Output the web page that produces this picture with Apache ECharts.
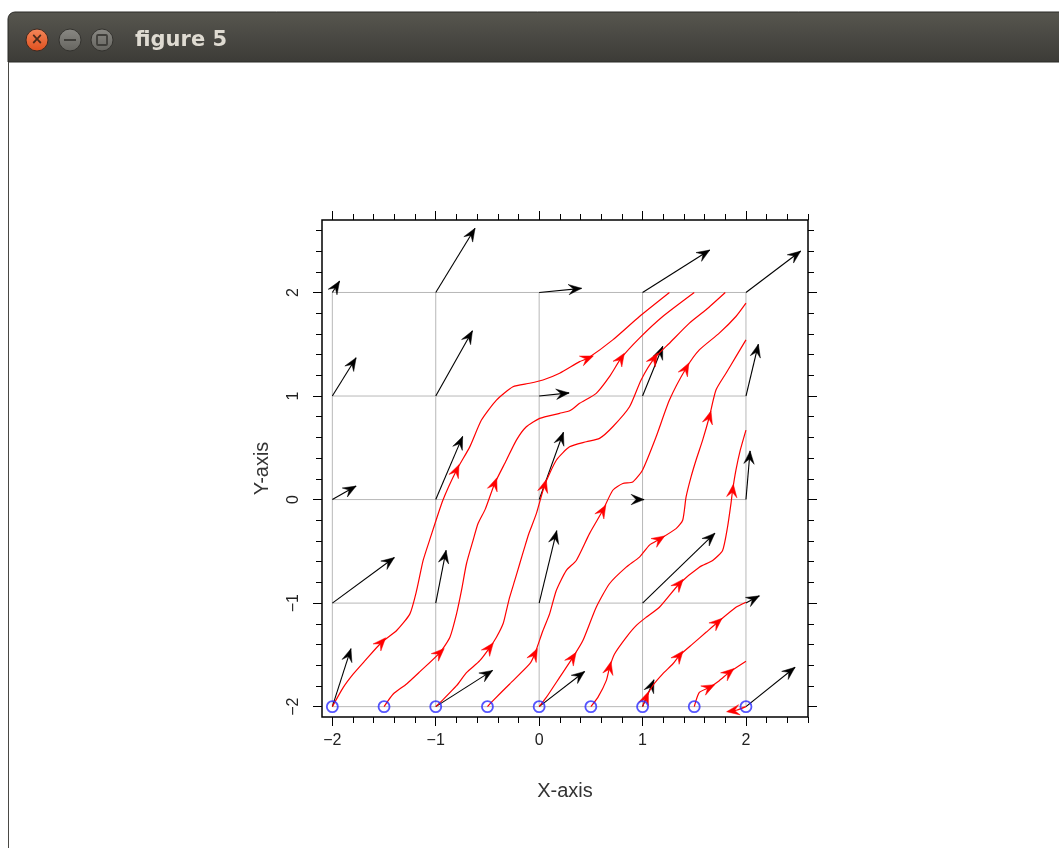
<!DOCTYPE html>
<html><head><meta charset="utf-8">
<script src="https://cdn.jsdelivr.net/npm/echarts@6/dist/echarts.min.js"></script>
<style>html,body{margin:0;padding:0;background:#fff}#c{width:1059px;height:848px}</style>
</head><body><div id="c"></div>
<script>
// ---- tick labels / tick positions ----
const xMajor = [-2, -1, 0, 1, 2];
const yMajor = [-2, -1, 0, 1, 2];
const xMinor = [-2, -1.8, -1.6, -1.4, -1.2, -1, -0.8, -0.6, -0.4, -0.2, 0, 0.2, 0.4, 0.6, 0.8, 1, 1.2, 1.4, 1.6, 1.8, 2, 2.2, 2.4, 2.6];
const yMinor = [-2, -1.8, -1.6, -1.4, -1.2, -1, -0.8, -0.6, -0.4, -0.2, 0, 0.2, 0.4, 0.6, 0.8, 1, 1.2, 1.4, 1.6, 1.8, 2, 2.2, 2.4, 2.6];
const gridVals = [-2, -1, 0, 1, 2];

// ---- vector field (black arrows), rows y=-2..2, columns x=-2..2 ----
const fieldX = [-2, -1, 0, 1, 2];
const fieldY = [-2, -1, 0, 1, 2];
const fieldDX = [
  [0.18, 0.55, 0.44, 0.11, 0.475],
  [0.60, 0.10, 0.17, 0.70, 0.13],
  [0.23, 0.26, 0.235, 0.015, 0.04],
  [0.23, 0.355, 0.29, 0.195, 0.12],
  [0.07, 0.38, 0.41, 0.65, 0.53]
];
const fieldDY = [
  [0.56, 0.35, 0.34, 0.26, 0.38],
  [0.44, 0.51, 0.70, 0.675, 0.07],
  [0.13, 0.61, 0.65, 0.0, 0.47],
  [0.37, 0.63, 0.03, 0.48, 0.50],
  [0.11, 0.62, 0.04, 0.41, 0.40]
];

// ---- streamline start points ----
const startX = [-2, -1.5, -1, -0.5, 0, 0.5, 1, 1.5, 2];
const startY = [-2, -2, -2, -2, -2, -2, -2, -2, -2];

// ---- streamlines ----
const curve1 = [[-2,-2],[-1.894,-1.814],[-1.797,-1.684],[-1.684,-1.556],[-1.523,-1.378],[-1.378,-1.265],[-1.25,-1.104],[-1.185,-0.878],[-1.122,-0.588],[-1.06,-0.394],[-0.931,-0.007],[-0.799,0.284],[-0.671,0.509],[-0.558,0.768],[-0.413,0.961],[-0.253,1.09],[-0.092,1.123],[0.037,1.155],[0.198,1.22],[0.391,1.332],[0.471,1.365],[0.712,1.542],[0.97,1.768],[1.26,2.0]];
const curve2 = [[-1.5,-2],[-1.411,-1.878],[-1.282,-1.781],[-1.153,-1.662],[-0.96,-1.478],[-0.863,-1.33],[-0.799,-1.104],[-0.751,-0.878],[-0.703,-0.62],[-0.639,-0.394],[-0.591,-0.232],[-0.52,-0.09],[-0.43,0.155],[-0.317,0.38],[-0.22,0.574],[-0.124,0.703],[0.005,0.784],[0.198,0.833],[0.3,0.86],[0.391,0.929],[0.552,1.026],[0.68,1.187],[0.793,1.365],[0.97,1.559],[1.195,1.768],[1.5,2.0]];
const curve3 = [[-1,-2],[-0.929,-1.932],[-0.799,-1.798],[-0.703,-1.672],[-0.574,-1.556],[-0.478,-1.43],[-0.413,-1.33],[-0.349,-1.2],[-0.317,-1.072],[-0.285,-0.943],[-0.236,-0.781],[-0.188,-0.62],[-0.14,-0.459],[-0.1,-0.33],[-0.027,-0.136],[0.053,0.138],[0.166,0.38],[0.294,0.509],[0.456,0.558],[0.584,0.591],[0.712,0.703],[0.874,0.896],[0.986,1.155],[1.115,1.365],[1.26,1.51],[1.453,1.704],[1.614,1.833],[1.8,2.0]];
const curve4 = [[-0.5,-2],[-0.446,-1.942],[-0.285,-1.781],[-0.092,-1.588],[-0.043,-1.491],[0.037,-1.265],[0.101,-1.104],[0.166,-0.878],[0.263,-0.684],[0.359,-0.588],[0.487,-0.329],[0.616,-0.104],[0.712,0.09],[0.809,0.155],[0.905,0.17],[0.999,0.284],[1.131,0.606],[1.26,0.961],[1.421,1.268],[1.549,1.445],[1.742,1.607],[1.903,1.768],[2,1.897]];
const curve5 = [[0,-2],[0.069,-1.911],[0.198,-1.717],[0.326,-1.524],[0.423,-1.362],[0.552,-1.04],[0.68,-0.813],[0.842,-0.653],[0.97,-0.556],[1.067,-0.44],[1.163,-0.384],[1.324,-0.281],[1.388,-0.2],[1.421,0.025],[1.469,0.219],[1.517,0.38],[1.581,0.574],[1.646,0.8],[1.71,1.058],[1.807,1.22],[1.903,1.38],[2,1.542]];
const curve6 = [[0.5,-2],[0.568,-1.911],[0.649,-1.749],[0.681,-1.621],[0.729,-1.491],[0.842,-1.33],[0.938,-1.217],[1.035,-1.137],[1.163,-1.04],[1.356,-0.813],[1.549,-0.653],[1.678,-0.588],[1.774,-0.491],[1.822,-0.265],[1.855,-0.039],[1.871,0.09],[1.903,0.284],[1.945,0.477],[2,0.671]];
const curve7 = [[1,-2],[1.035,-1.911],[1.098,-1.798],[1.195,-1.684],[1.292,-1.588],[1.356,-1.507],[1.485,-1.394],[1.614,-1.282],[1.726,-1.185],[1.903,-1.04],[2,-0.991]];
const curve8 = [[1.5,-2],[1.549,-1.863],[1.646,-1.814],[1.742,-1.749],[1.839,-1.669],[2,-1.562]];
const curve9 = [[2,-2],[1.906,-2.035],[1.839,-2.045]];
const streamCurves = [curve1, curve2, curve3, curve4, curve5, curve6, curve7, curve8, curve9];

// ---- arrowheads along streamlines: [curve index, x, y] ----
const streamHeads = [
  [0,-1.523,-1.378],[0,-0.799,0.284],[0,0.471,1.365],
  [1,-0.96,-1.478],[1,-0.43,0.155],[1,0.793,1.365],
  [2,-0.478,-1.43],[2,0.053,0.138],[2,1.115,1.365],
  [3,-0.043,-1.491],[3,0.616,-0.104],[3,1.421,1.268],
  [4,0.326,-1.524],[4,1.163,-0.378],[4,1.646,0.8],
  [5,0.681,-1.621],[5,1.356,-0.813],[5,1.871,0.09],
  [6,1.035,-1.911],[6,1.356,-1.507],[6,1.726,-1.185],
  [7,1.646,-1.814],[7,1.839,-1.669],
  [8,1.87,-2.04]
];

// ---------------------------------------------------------------
const X_MIN = -2.1, X_MAX = 2.6, Y_MIN = -2.1, Y_MAX = 2.7;
const HEAD_LEN = 13, HEAD_HW = 5.2;

function headPoly(tx, ty, ux, uy) {
  const bx = tx - ux * HEAD_LEN, by = ty - uy * HEAD_LEN;
  const nx = -uy, ny = ux;
  return [[tx, ty], [bx + nx * HEAD_HW, by + ny * HEAD_HW],
          [tx - ux * HEAD_LEN * 0.62, ty - uy * HEAD_LEN * 0.62],
          [bx - nx * HEAD_HW, by - ny * HEAD_HW]];
}

const arrowData = [];
fieldY.forEach((y, r) => fieldX.forEach((x, c) => arrowData.push([x, y, fieldDX[r][c], fieldDY[r][c]])));

function renderArrow(params, api) {
  const x0 = api.value(0), y0 = api.value(1), dx = api.value(2), dy = api.value(3);
  const p0 = api.coord([x0, y0]), p1 = api.coord([x0 + dx, y0 + dy]);
  let vx = p1[0] - p0[0], vy = p1[1] - p0[1];
  let L = Math.sqrt(vx * vx + vy * vy);
  if (L < 1e-6) { vx = 1; vy = 0; L = 1; }
  const ux = vx / L, uy = vy / L;
  return {
    type: 'group',
    children: [
      { type: 'line', shape: { x1: p0[0], y1: p0[1], x2: p1[0], y2: p1[1] },
        style: { stroke: '#000', lineWidth: 1.1 } },
      { type: 'polygon', shape: { points: headPoly(p1[0], p1[1], ux, uy) },
        style: { fill: '#000', stroke: '#000', lineWidth: 0.5 } }
    ]
  };
}

function renderStreamHead(params, api) {
  const ci = api.value(0);
  const p = api.coord([api.value(1), api.value(2)]);
  const pts = streamCurves[ci].map(q => api.coord(q));
  let best = null, bd = Infinity;
  for (let i = 0; i < pts.length - 1; i++) {
    const a = pts[i], b = pts[i + 1];
    const vx = b[0] - a[0], vy = b[1] - a[1];
    const L2 = vx * vx + vy * vy;
    if (!L2) continue;
    let t = ((p[0] - a[0]) * vx + (p[1] - a[1]) * vy) / L2;
    t = Math.max(0, Math.min(1, t));
    const cx = a[0] + t * vx, cy = a[1] + t * vy;
    const d = (p[0] - cx) ** 2 + (p[1] - cy) ** 2;
    if (d < bd) { bd = d; const L = Math.sqrt(L2); best = { x: cx, y: cy, ux: vx / L, uy: vy / L }; }
  }
  const tx = best.x + best.ux * 6, ty = best.y + best.uy * 6;
  return { type: 'polygon', shape: { points: headPoly(tx, ty, best.ux, best.uy) },
           style: { fill: '#ff0000', stroke: '#ff0000', lineWidth: 0.5 } };
}

function renderGridLine(params, api) {
  const v = api.value(0);
  const lo = gridVals[0], hi = gridVals[gridVals.length - 1];
  const a = api.coord([v, lo]), b = api.coord([v, hi]);
  const c = api.coord([lo, v]), d = api.coord([hi, v]);
  return { type: 'group', children: [
    { type: 'line', shape: { x1: a[0], y1: a[1], x2: b[0], y2: b[1] }, style: { stroke: '#b8b8b8', lineWidth: 1 } },
    { type: 'line', shape: { x1: c[0], y1: c[1], x2: d[0], y2: d[1] }, style: { stroke: '#b8b8b8', lineWidth: 1 } }
  ]};
}

const fmt = v => (v < 0 ? '\u2212' + Math.abs(v) : String(v));
const labelFont = { fontFamily: 'Liberation Sans', fontSize: 16, color: '#222' };
const nameFont = { fontFamily: 'Liberation Sans', fontSize: 20, color: '#333' };

function mkAxis(kind, pos, ticks, len, opts) {
  const isX = kind === 'x';
  return Object.assign({
    type: 'value', position: pos,
    min: isX ? X_MIN : Y_MIN, max: isX ? X_MAX : Y_MAX,
    axisLine: { show: false, onZero: false },
    axisTick: { show: true, inside: false, length: len, customValues: ticks, lineStyle: { color: '#000', width: 1 } },
    axisLabel: { show: false },
    splitLine: { show: false }
  }, opts || {});
}

const xAxes = [
  mkAxis('x', 'bottom', xMajor, 9, {
    axisLabel: Object.assign({ show: true, customValues: xMajor, margin: 16, formatter: fmt }, labelFont),
    name: 'X-axis', nameLocation: 'middle', nameGap: 64, nameTextStyle: nameFont
  }),
  mkAxis('x', 'bottom', xMinor, 6),
  mkAxis('x', 'top', xMajor, 9),
  mkAxis('x', 'top', xMinor, 6)
];
const yAxes = [
  mkAxis('y', 'left', yMajor, 9, {
    axisLabel: Object.assign({ show: true, customValues: yMajor, margin: 20, rotate: 90, formatter: fmt }, labelFont),
    name: 'Y-axis', nameLocation: 'middle', nameGap: 50, nameTextStyle: nameFont
  }),
  mkAxis('y', 'left', yMinor, 6),
  mkAxis('y', 'right', yMajor, 9),
  mkAxis('y', 'right', yMinor, 6)
];

const series = [
  { type: 'custom', renderItem: renderGridLine, data: gridVals.map(v => [v]), encode: { x: 0, y: 0 }, z: 1, silent: true, clip: false },
  { type: 'custom', renderItem: renderArrow, data: arrowData, encode: { x: 0, y: 1 }, z: 2, silent: true, clip: false }
];
streamCurves.forEach((c, i) => series.push({
  type: 'line', data: c, showSymbol: false, symbol: 'none', z: 3, silent: true, smooth: 0.2,
  lineStyle: { color: '#ff0000', width: 1.2 }
}));
series.push({ type: 'custom', renderItem: renderStreamHead, data: streamHeads, encode: { x: 1, y: 2 }, z: 4, silent: true, clip: false });
series.push({
  type: 'scatter', data: startX.map((x, i) => [x, startY[i]]), symbol: 'circle', symbolSize: 11, z: 5, silent: true,
  itemStyle: { color: 'rgba(0,0,0,0)', borderColor: '#2a2aff', borderWidth: 1.8 }
});

const chart = echarts.init(document.getElementById('c'), null, { renderer: 'canvas' });
chart.setOption({
  backgroundColor: '#ffffff',
  animation: false,
  grid: { left: 322, right: 251, top: 220, bottom: 131, show: true, borderColor: '#000', borderWidth: 1.5, backgroundColor: 'transparent' },
  xAxis: xAxes,
  yAxis: yAxes,
  series: series,
  graphic: [
    { type: 'rect', shape: { x: 8, y: 12, width: 1060, height: 50, r: [7, 0, 0, 0] },
      style: { fill: { type: 'linear', x: 0, y: 0, x2: 0, y2: 1, colorStops: [{ offset: 0, color: '#57564f' }, { offset: 1, color: '#3c3b37' }] }, stroke: '#2b2a27', lineWidth: 1 } },
    { type: 'line', shape: { x1: 8.5, y1: 62, x2: 8.5, y2: 848 }, style: { stroke: '#4a4945', lineWidth: 1 } },
    { type: 'circle', shape: { cx: 37, cy: 40, r: 11 },
      style: { fill: { type: 'linear', x: 0, y: 0, x2: 0, y2: 1, colorStops: [{ offset: 0, color: '#f5875a' }, { offset: 1, color: '#df4f1d' }] }, stroke: '#3a2a22', lineWidth: 1 } },
    { type: 'text', x: 37, y: 40, style: { text: '\u00d7', fill: '#4a2a1a', font: 'bold 15px DejaVu Sans', align: 'center', verticalAlign: 'middle' } },
    { type: 'circle', shape: { cx: 70, cy: 40, r: 11 },
      style: { fill: { type: 'linear', x: 0, y: 0, x2: 0, y2: 1, colorStops: [{ offset: 0, color: '#8a8984' }, { offset: 1, color: '#65645f' }] }, stroke: '#33322e', lineWidth: 1 } },
    { type: 'rect', shape: { x: 64, y: 39, width: 12, height: 2 }, style: { fill: '#3f3e3a' } },
    { type: 'circle', shape: { cx: 102, cy: 40, r: 11 },
      style: { fill: { type: 'linear', x: 0, y: 0, x2: 0, y2: 1, colorStops: [{ offset: 0, color: '#8a8984' }, { offset: 1, color: '#65645f' }] }, stroke: '#33322e', lineWidth: 1 } },
    { type: 'rect', shape: { x: 97, y: 35, width: 10, height: 10, r: 1 }, style: { fill: 'none', stroke: '#3f3e3a', lineWidth: 1.8 } },
    { type: 'text', x: 135, y: 41, style: { text: 'figure 5', fill: '#dfdbd2', font: 'bold 21px DejaVu Sans', verticalAlign: 'middle' } }
  ]
});
</script>
</body></html>
